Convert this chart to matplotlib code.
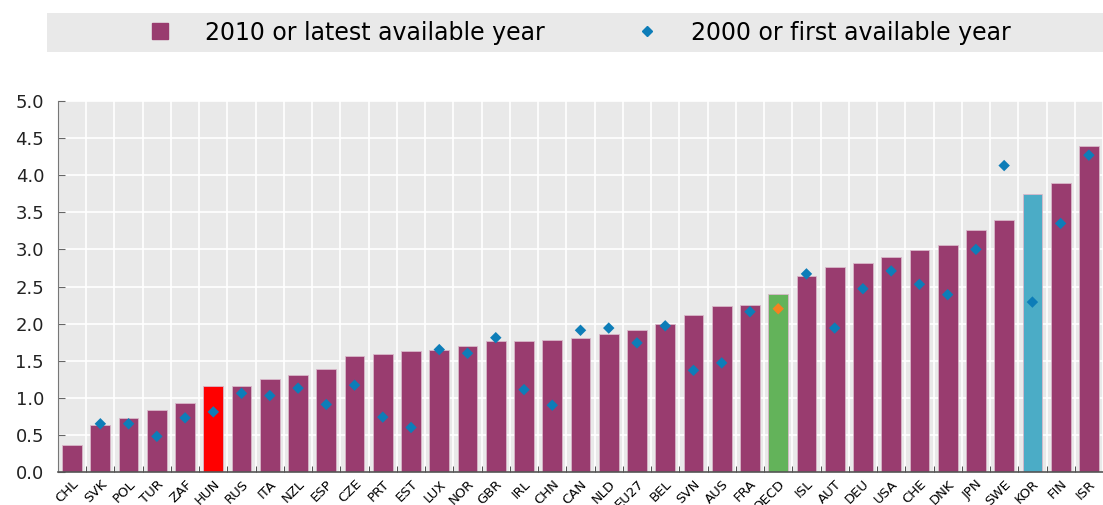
import numpy as np
import matplotlib.pyplot as plt
import matplotlib.transforms as mtransforms
from matplotlib.lines import Line2D
from matplotlib.patches import Rectangle

# Données
pays = ["CHL", "SVK", "POL", "TUR", "ZAF", "HUN", "RUS", "ITA", "NZL", "ESP",
        "CZE", "PRT", "EST", "LUX", "NOR", "GBR", "IRL", "CHN", "CAN", "NLD",
        "EU27", "BEL", "SVN", "AUS", "FRA", "OECD", "ISL", "AUT", "DEU", "USA",
        "CHE", "DNK", "JPN", "SWE", "KOR", "FIN", "ISR"]
val_2010 = [0.37, 0.63, 0.73, 0.84, 0.93, 1.16, 1.16, 1.26, 1.31, 1.39,
            1.57, 1.59, 1.63, 1.64, 1.70, 1.77, 1.77, 1.78, 1.81, 1.86,
            1.91, 1.99, 2.11, 2.24, 2.25, 2.40, 2.64, 2.76, 2.82, 2.90,
            2.99, 3.06, 3.26, 3.40, 3.74, 3.89, 4.40]
val_2000 = [np.nan, 0.65, 0.65, 0.48, 0.73, 0.81, 1.06, 1.03, 1.13, 0.91,
            1.17, 0.74, 0.60, 1.65, 1.60, 1.81, 1.11, 0.90, 1.91, 1.94,
            1.74, 1.97, 1.37, 1.47, 2.16, 2.20, 2.67, 1.94, 2.47, 2.71,
            2.53, 2.39, 3.00, 4.13, 2.29, 3.35, 4.27]

violet = "#993C6F"
bleu = "#0D7DB8"
couleurs_speciales = {"HUN": "#FF0000", "OECD": "#63B35A", "KOR": "#4BACC6"}

x = np.arange(len(pays))
couleurs = [couleurs_speciales.get(p, violet) for p in pays]
couleurs_pts = ["#F58220" if p == "OECD" else bleu for p in pays]

fig = plt.figure(figsize=(11.03, 5.05), dpi=100)
ax = fig.add_axes([58/1103, 33/505, 1 - 58/1103, 371/505])
ax.set_facecolor("#E9E9E9")

# Grille blanche (entre les barres et à chaque 0.5)
for xb in np.arange(-0.5, len(pays), 1.0):
    ax.axvline(xb, color="white", linewidth=1.2, zorder=0)
for yb in np.arange(0.5, 5.01, 0.5):
    ax.axhline(yb, color="white", linewidth=1.2, zorder=0)

ax.bar(x, val_2010, width=0.7, color=couleurs, edgecolor="#D9B8CA",
       linewidth=0.6, zorder=2)
ax.scatter(x, val_2000, marker="D", s=34, color=couleurs_pts, zorder=3,
           linewidths=0)

ax.set_xlim(-0.5, 36.17)
ax.set_ylim(0, 5)
ax.set_yticks(np.arange(0, 5.01, 0.5))
ax.set_yticklabels([f"{v:.1f}" for v in np.arange(0, 5.01, 0.5)], fontsize=13,
                   color="#222222")
ax.set_xticks(x)
ax.set_xticklabels(pays, rotation=45, ha="right", rotation_mode="anchor",
                   fontsize=9.5)
# léger décalage des étiquettes vers la gauche
decal = mtransforms.ScaledTranslation(-5/100, 0, fig.dpi_scale_trans)
for lab in ax.get_xticklabels():
    lab.set_transform(lab.get_transform() + decal)
ax.set_xticks(np.arange(-0.5, len(pays), 1.0), minor=True)
ax.tick_params(axis="x", which="major", length=0, pad=4)
ax.tick_params(axis="x", which="minor", direction="in", length=4, color="#333333")
ax.tick_params(axis="y", direction="in", length=5, color="#666666", pad=10)
for s in ["top", "right"]:
    ax.spines[s].set_visible(False)
ax.spines["left"].set_color("#777777")
ax.spines["bottom"].set_color("#555555")
ax.spines["bottom"].set_linewidth(1.2)

# Légende dans un bandeau gris
fig.patches.append(Rectangle((47/1103, 1 - 52/505), 1 - 47/1103, 39/505,
                             transform=fig.transFigure, facecolor="#E9E9E9",
                             edgecolor="none", zorder=0))
poignees = [Line2D([], [], marker="s", linestyle="none", color=violet, markersize=11),
            Line2D([], [], marker="D", linestyle="none", color=bleu, markersize=5.5)]
fig.legend(poignees, ["2010 or latest available year", "2000 or first available year"],
           loc="center", bbox_to_anchor=(574/1103, 1 - 32.5/505), ncol=2,
           frameon=False, fontsize=17, columnspacing=3.3, handletextpad=0.9)

fig.savefig("out.png", dpi=100)
